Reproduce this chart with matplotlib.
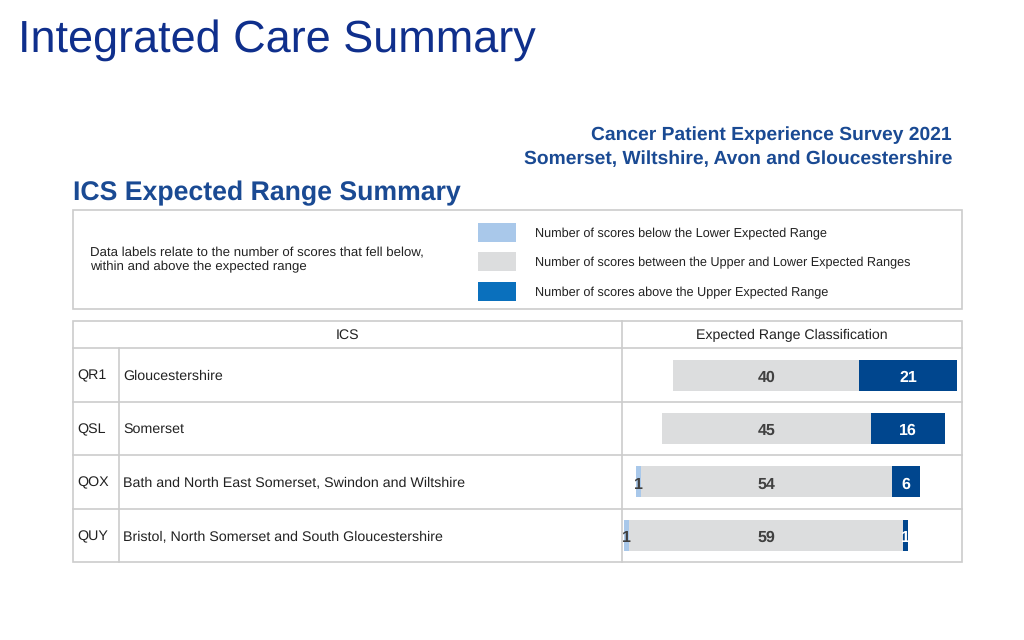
import matplotlib
matplotlib.use("Agg")
import matplotlib.pyplot as plt
from matplotlib.patches import Rectangle
from matplotlib.lines import Line2D

plt.rcParams['font.family'] = ['Liberation Sans', 'DejaVu Sans']
plt.rcParams['text.hinting'] = 'no_hinting'
plt.rcParams['text.hinting_factor'] = 8

# ---- data ----
codes = ["QR1", "QSL", "QOX", "QUY"]
names = ["Gloucestershire", "Somerset",
         "Bath and North East Somerset, Swindon and Wiltshire",
         "Bristol, North Somerset and South Gloucestershire"]
below = [0, 0, 1, 1]
within = [40, 45, 54, 59]
above = [21, 16, 6, 1]
legend_labels = ["Number of scores below the Lower Expected Range",
                 "Number of scores between the Upper and Lower Expected Ranges",
                 "Number of scores above the Upper Expected Range"]

C_BELOW = "#A9C8EA"
C_WITHIN = "#DCDDDE"
C_ABOVE = "#00468E"
C_ABOVE_LEG = "#0A70BD"
C_TITLE = "#0F2F8C"
C_HEAD = "#1A4A93"
C_LINE = "#CCCCCC"
C_TXT = "#222222"

W, H = 1024, 640
fig = plt.figure(figsize=(W / 100, H / 100), dpi=100)
bg = fig.add_axes([0, 0, 1, 1])
bg.set_xlim(0, W)
bg.set_ylim(H, 0)
bg.axis("off")

# titles
bg.text(18, 40, "Integrated Care Summary", fontsize=32.4, color=C_TITLE,
        ha="left", va="center")
bg.text(952, 135, "Cancer Patient Experience Survey 2021", fontsize=13.9,
        fontweight="bold", color=C_HEAD, ha="right", va="center")
bg.text(952, 159, "Somerset, Wiltshire, Avon and Gloucestershire", fontsize=13.9,
        fontweight="bold", color=C_HEAD, ha="right", va="center")
bg.text(73, 193, "ICS Expected Range Summary", fontsize=19.2,
        fontweight="bold", color=C_HEAD, ha="left", va="center")

# legend box
bg.add_patch(Rectangle((73, 210), 889, 99, fill=False, ec=C_LINE, lw=1.2))
bg.text(90, 260, "Data labels relate to the number of scores that fell below,\n"
        "within and above the expected range", fontsize=9.5, color=C_TXT,
        ha="left", va="center", linespacing=1.15)
for i, (lab, col) in enumerate(zip(legend_labels, [C_BELOW, C_WITHIN, C_ABOVE_LEG])):
    yc = 232 + i * 29.5
    bg.add_patch(Rectangle((478, yc - 9.5), 38, 19, color=col, lw=0))
    bg.text(535, yc + 1.5, lab, fontsize=9.1, color=C_TXT, ha="left", va="center")

# table frame
top, hdr, bot = 321, 348.3, 562
left, mid, right, codecol = 73, 621.7, 961.7, 119
bg.add_patch(Rectangle((left, top), right - left, bot - top, fill=False,
                       ec=C_LINE, lw=1.2))
bg.add_line(Line2D([left, right], [hdr, hdr], color=C_LINE, lw=1.2))
bg.add_line(Line2D([mid, mid], [top, bot], color=C_LINE, lw=1.2))
bg.add_line(Line2D([codecol, codecol], [hdr, bot], color=C_LINE, lw=1.2))
row_h = (bot - hdr) / len(codes)
for i in range(1, len(codes)):
    y = hdr + i * row_h
    bg.add_line(Line2D([left, right], [y, y], color=C_LINE, lw=1.2))
bg.text((left + mid) / 2, 335, "ICS", fontsize=10.2, color=C_TXT,
        ha="center", va="center")
bg.text((mid + right) / 2, 335, "Expected Range Classification", fontsize=10.2,
        color=C_TXT, ha="center", va="center")
for i, (c, n) in enumerate(zip(codes, names)):
    yc = hdr + (i + 0.5) * row_h + 1
    bg.text(77, yc, c, fontsize=10.3, color=C_TXT, ha="left", va="center")
    bg.text(123, yc, n, fontsize=10.3, color=C_TXT, ha="left", va="center")

# bar axes
ax = fig.add_axes([mid / W, (H - bot) / H, (right - mid) / W, (bot - hdr) / H])
ax.patch.set_alpha(0)
scale = 4.65
center_px = 766.3
ax.set_xlim((mid - center_px) / scale, (right - center_px) / scale)
ax.set_ylim(len(codes), 0)
ax.axis("off")
bh = 0.58
for i in range(len(codes)):
    y = i + 0.5
    start = -(below[i] + within[i] / 2)
    segs = [(below[i], C_BELOW, "#404040"), (within[i], C_WITHIN, "#404040"),
            (above[i], C_ABOVE, "white")]
    x = start
    for val, col, tcol in segs:
        if val > 0:
            ax.barh(y, val, left=x, height=bh, color=col, lw=0)
            ax.text(x + val / 2, y + 0.05, str(val), ha="center", va="center",
                    fontsize=11.5, fontweight="bold", color=tcol)
        x += val

fig.savefig("out.png", dpi=100)
